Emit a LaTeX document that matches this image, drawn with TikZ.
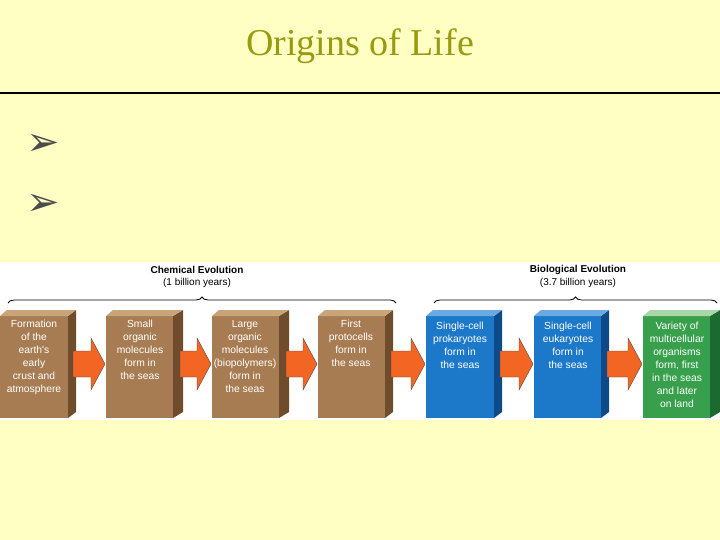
\documentclass[tikz,border=0pt]{standalone}
\usepackage{fontspec}
\setmainfont{Liberation Serif}
\newfontfamily\arial{Liberation Sans}
\newfontfamily\dejavu{DejaVu Sans}
\usetikzlibrary{decorations.pathreplacing}
\definecolor{bg}{HTML}{FFFFC4}
\definecolor{olive}{HTML}{9A9A10}
\definecolor{brF}{HTML}{A87C52}\definecolor{brS}{HTML}{6E4C2C}\definecolor{brT}{HTML}{C9A478}
\definecolor{blF}{HTML}{1C78C8}\definecolor{blS}{HTML}{0C4A8A}\definecolor{blT}{HTML}{6AAAE0}
\definecolor{grF}{HTML}{38A04C}\definecolor{grS}{HTML}{1C6A30}\definecolor{grT}{HTML}{A8D8A8}
\definecolor{arr}{HTML}{F26522}
\tikzset{
 boxtxt/.style={font=\arial\fontsize{10.3}{13}\selectfont,text=white,align=center,anchor=north,inner sep=0pt},
 lbl/.style={font=\arial\fontsize{10}{13}\selectfont,align=center,inner sep=0pt},
 brace/.style={draw=black,line width=0.8pt,decorate,decoration={brace,amplitude=6pt}},
 bullet/.style={font=\dejavu\fontsize{40}{40}\selectfont,text=black!70,inner sep=0pt},
}
\newcommand{\slab}[6]{% x1 x2 side-right fill side top
 \fill[#4] (#1,316) rectangle (#2,418);
 \fill[#5] (#2,316) -- (#3,310) -- (#3,412) -- (#2,418) -- cycle;
 \fill[#6] (#1,316) -- (#1+7,310) -- (#3,310) -- (#2,316) -- cycle;
}
\newcommand{\harrow}[3]{% x1 x2 name
 \draw[fill=arr,draw=black!70,line width=0.4pt] (#1,351) -- (#2-14,351) -- (#2-14,338) -- (#2,364) -- (#2-14,390) -- (#2-14,377) -- (#1,377) -- cycle;
 \coordinate (#3) at (#2,364);
}
\begin{document}
\begin{tikzpicture}[x=1pt,y=-1pt]
\fill[bg] (0,0) rectangle (720,540);
\useasboundingbox (0,0) rectangle (720,540);
\node[font=\fontsize{38}{40}\selectfont,text=olive] (title) at (360,46) {Origins of Life};
\draw[line width=1.2pt] (0,93) -- (720,93);
\node[bullet] (b1) at (43,145) {➢};
\node[bullet] (b2) at (43,205) {➢};
\fill[white] (0,262) rectangle (720,420);
\node[lbl,font=\arial\bfseries\fontsize{10}{13}\selectfont] (ce) at (197,270) {Chemical Evolution};
\node[lbl] (ce2) at (197,283) {(1 billion years)};
\node[lbl,font=\arial\bfseries\fontsize{10}{13}\selectfont] (be) at (578,270) {Biological Evolution};
\node[lbl] (be2) at (578,283) {(3.7 billion years)};
\draw[brace] (8,303) -- (396,303);
\draw[brace] (434,303) -- (717,303);
\slab{0}{68}{76}{brF}{brS}{brT}
\slab{106}{173}{183}{brF}{brS}{brT}
\slab{212}{279}{289}{brF}{brS}{brT}
\slab{318}{385}{393}{brF}{brS}{brT}
\slab{426}{494}{502}{blF}{blS}{blT}
\slab{534}{601}{609}{blF}{blS}{blT}
\slab{643}{710}{720}{grF}{grS}{grT}
\node[boxtxt] (n1) at (34,320) {Formation\\of the\\earth's\\early\\crust and\\atmosphere};
\node[boxtxt] (n2) at (140,320) {Small\\organic\\molecules\\form in\\the seas};
\node[boxtxt] (n3) at (245,320) {Large\\organic\\molecules\\(biopolymers)\\form in\\the seas};
\node[boxtxt] (n4) at (351,320) {First\\protocells\\form in\\the seas};
\node[boxtxt] (n5) at (460,322) {Single-cell\\prokaryotes\\form in\\the seas};
\node[boxtxt] (n6) at (568,322) {Single-cell\\eukaryotes\\form in\\the seas};
\node[boxtxt] (n7) at (677,322) {Variety of\\multicellular\\organisms\\form, first\\in the seas\\and later\\on land};
\harrow{73}{105}{a1}
\harrow{180}{211}{a2}
\harrow{286}{317}{a3}
\harrow{391}{425}{a4}
\harrow{500}{533}{a5}
\harrow{607}{642}{a6}
\end{tikzpicture}
\end{document}
